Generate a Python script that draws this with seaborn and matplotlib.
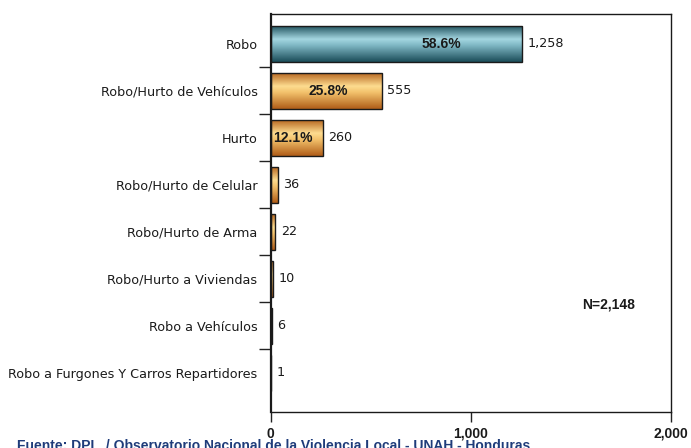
import matplotlib
matplotlib.use("Agg")
import numpy as np
import pandas as pd
import seaborn as sns
import matplotlib.pyplot as plt
from matplotlib.colors import LinearSegmentedColormap

# ---- data ----
categories = [
    "Robo",
    "Robo/Hurto de Vehículos",
    "Hurto",
    "Robo/Hurto de Celular",
    "Robo/Hurto de Arma",
    "Robo/Hurto a Viviendas",
    "Robo a Vehículos",
    "Robo a Furgones Y Carros Repartidores",
]
counts = [1258, 555, 260, 36, 22, 10, 6, 1]
pct_labels = ["58.6%", "25.8%", "12.1%"]
x_ticks = [0, 1000, 2000]
x_tick_labels = ["0", "1,000", "2,000"]
total_label = "N=2,148"
source_text = "Fuente: DPI   / Observatorio Nacional de la Violencia Local - UNAH - Honduras"

sns.set_theme(style="white")
plt.rcParams["font.family"] = ["DejaVu Sans"]

fig = plt.figure(figsize=(6.91, 4.48), dpi=100)
ax = fig.add_axes([270.7 / 691, 1 - 412 / 448, 400 / 691, (412 - 14) / 448])

df = pd.DataFrame({"cat": categories, "n": counts})
sns.barplot(data=df, x="n", y="cat", orient="h", ax=ax, width=0.766,
            color="#e0a050", edgecolor="#1a1a1a", linewidth=1.0, saturation=1)

teal = LinearSegmentedColormap.from_list(
    "teal", [(0, "#1b4d59"), (0.38, "#a4d6e1"), (0.55, "#7fb7c4"), (1, "#1b4d59")])
orange = LinearSegmentedColormap.from_list(
    "orange", [(0, "#b3601a"), (0.38, "#fddc90"), (0.55, "#f3c26c"), (1, "#b05d18")])
grad = np.linspace(0, 1, 100).reshape(-1, 1)

for i, p in enumerate(ax.patches):
    x0, y0 = p.get_x(), p.get_y()
    w, h = p.get_width(), p.get_height()
    cmap = teal if i == 0 else orange
    im = ax.imshow(grad, extent=(x0, x0 + w, y0, y0 + h), origin="lower",
                   aspect="auto", cmap=cmap, zorder=0.9, interpolation="bilinear")
    im.set_clip_path(p)
    p.set_facecolor("none")
    p.set_zorder(1)

ax.set_xlim(0, 2000)
ax.set_ylim(7.83, -0.638)
ax.set_xlabel("")
ax.set_ylabel("")

# y axis: labels at centres, ticks at boundaries
ax.set_yticks(range(len(categories)))
ax.set_yticklabels(categories, fontsize=9.15, color="#1a1a1a")
ax.set_yticks(np.arange(0.5, len(categories) - 1, 1), minor=True)
ax.tick_params(axis="y", which="major", left=True, length=0, pad=9.5)
ax.tick_params(axis="y", which="minor", left=True, length=8.6, width=1.0,
               color="#222222", direction="out")

ax.set_xticks(x_ticks)
ax.set_xticklabels(x_tick_labels)
ax.tick_params(axis="x", bottom=True, length=7.2, width=1.0, color="#222222",
               direction="out", pad=3.5)
for lab in ax.get_xticklabels():
    lab.set_fontfamily("Liberation Sans")
    lab.set_fontweight("bold")
    lab.set_fontsize(10)
    lab.set_color("#1a1a1a")

for name, sp in ax.spines.items():
    sp.set_visible(True)
    sp.set_color("#1a1a1a")
    sp.set_linewidth(1.0)
ax.spines["left"].set_linewidth(1.6)

# value labels
for i, v in enumerate(counts):
    ax.text(v + 28, i, f"{v:,}", ha="left", va="center", fontsize=9.15,
            color="#1a1a1a")

# percentage labels inside the top bars
pct_frac = [0.68, 0.52, 0.42]
for i, (lab, f) in enumerate(zip(pct_labels, pct_frac)):
    ax.text(counts[i] * f, i, lab, ha="center", va="center", fontsize=10,
            fontweight="bold", family="Liberation Sans", color="#1a1a1a")

ax.text(1690, 5.55, total_label, ha="center", va="center", fontsize=10,
        fontweight="bold", family="Liberation Sans", color="#1a1a1a")

fig.text(17 / 691, 1 - 438.5 / 448, source_text, ha="left", va="top",
         fontsize=10, fontweight="bold", family="Liberation Sans",
         color="#1f3c7a")

fig.savefig("out.png", dpi=100)
